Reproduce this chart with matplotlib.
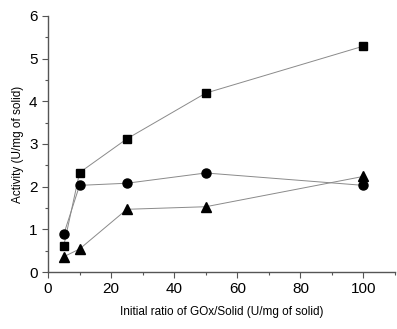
import matplotlib
matplotlib.use("Agg")
import matplotlib.pyplot as plt
from matplotlib.ticker import MultipleLocator

plt.rcParams['font.family'] = ['Liberation Sans', 'DejaVu Sans']

# ratio GOx/solid (U/mg of solid)
ratio = [5, 10, 25, 50, 100]
act_square = [0.62, 2.33, 3.12, 4.19, 5.29]
act_circle = [0.89, 2.03, 2.08, 2.32, 2.03]
act_triangle = [0.36, 0.54, 1.47, 1.53, 2.24]

fig = plt.figure(figsize=(3.97, 3.29), dpi=100)
ax = fig.add_axes([0.121, 0.173, 0.874, 0.779])

line_kw = dict(color='#8a8a8a', lw=0.7, mfc='black', mec='black')
ax.plot(ratio, act_square, marker='s', ms=6, **line_kw)
ax.plot(ratio, act_circle, marker='o', ms=6.5, **line_kw)
ax.plot(ratio, act_triangle, marker='^', ms=7, **line_kw)

ax.set_xlim(0, 110)
ax.set_ylim(0, 6)
ax.xaxis.set_major_locator(MultipleLocator(20))
ax.xaxis.set_minor_locator(MultipleLocator(10))
ax.yaxis.set_major_locator(MultipleLocator(1))
ax.yaxis.set_minor_locator(MultipleLocator(0.5))

for s in ['top', 'right']:
    ax.spines[s].set_visible(False)
for s in ['left', 'bottom']:
    ax.spines[s].set_color('#555555')
    ax.spines[s].set_linewidth(1.0)

ax.tick_params(which='major', direction='out', length=4, width=0.8, color='#555555', labelsize=11)
ax.tick_params(which='minor', direction='out', length=2, width=0.8, color='#555555')

ax.set_xlabel('Initial ratio of GOx/Solid (U/mg of solid)', fontsize=8.5, labelpad=7)
ax.set_ylabel('Activity (U/mg of solid)', fontsize=8.5, labelpad=4)

fig.savefig('out.png', dpi=100)
